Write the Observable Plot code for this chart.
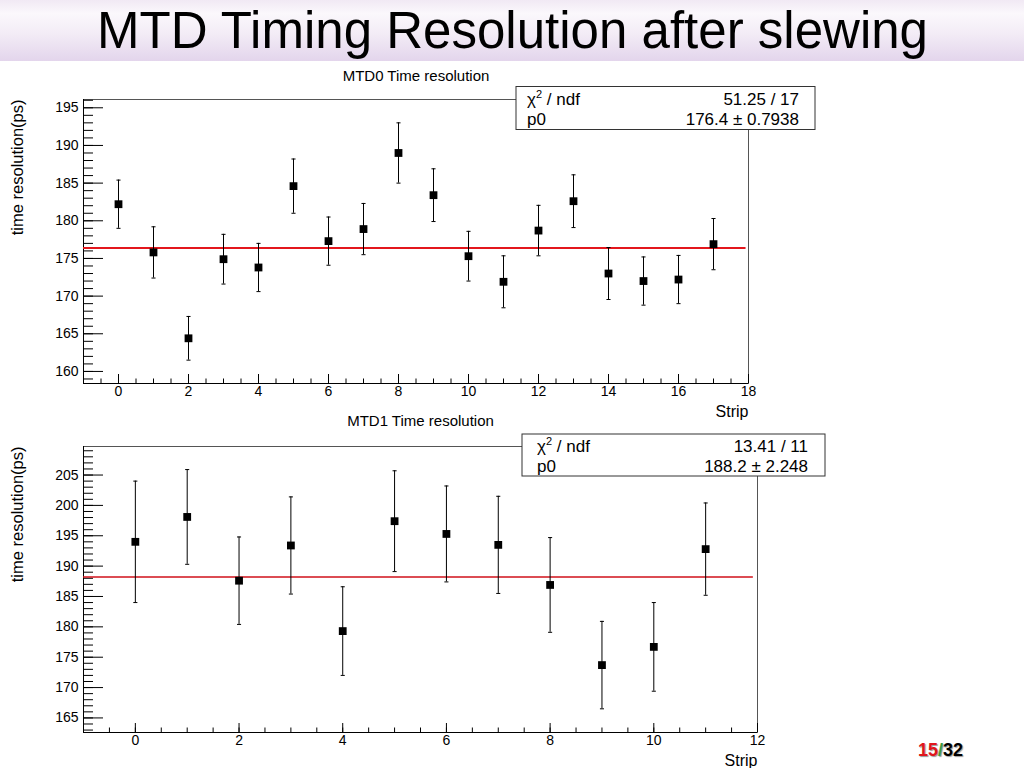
<!DOCTYPE html>
<html>
<head>
<meta charset="utf-8">
<script src="https://cdn.jsdelivr.net/npm/d3@7"></script>
<script src="https://cdn.jsdelivr.net/npm/@observablehq/plot@0.6"></script>
<style>
  html, body { margin: 0; padding: 0; }
  body { width: 1024px; height: 768px; position: relative; background: #fff; overflow: hidden;
         font-family: "Liberation Sans", Arial, Helvetica, sans-serif; }
  #band { position: absolute; left: 0; top: 0; width: 1024px; height: 61px;
          background: linear-gradient(to bottom, #f1e9f4 0%, #fbf8fc 22%, #f3ecf6 55%, #e3d5ec 100%); }
  .panel { position: absolute; left: 0; }
  #overlay { position: absolute; left: 0; top: 0; pointer-events: none; }
</style>
</head>
<body>
<div id="band"></div>
<div id="p0" class="panel" style="top:62px"></div>
<div id="p1" class="panel" style="top:410px"></div>
<svg id="overlay" width="1024" height="768"></svg>
<script>
// ---------------- data ----------------
const pageTitle = "MTD Timing Resolution after slewing";
const yTitle = "time resolution(ps)";
const xTitle = "Strip";

// MTD0
const title0 = "MTD0 Time resolution";
const strips0 = [0, 1, 2, 3, 4, 5, 6, 7, 8, 9, 10, 11, 12, 13, 14, 15, 16, 17];
const res0 = [182.2, 175.8, 164.4, 174.9, 173.8, 184.6, 177.3, 178.9, 189.0, 183.4, 175.3, 171.9, 178.7, 182.6, 173.0, 172.0, 172.2, 176.9];
const err0 = [3.2, 3.4, 2.9, 3.3, 3.2, 3.6, 3.2, 3.4, 4.0, 3.5, 3.3, 3.45, 3.35, 3.5, 3.45, 3.2, 3.2, 3.4];
const fitP0_0 = 176.4;
const fitRange0 = [-1, 17.93];
const xDomain0 = [-1, 18];
const yDomain0 = [158.4, 196.1];
const xMajor0 = [0, 2, 4, 6, 8, 10, 12, 14, 16, 18];
const yMajor0 = [160, 165, 170, 175, 180, 185, 190, 195];
const statNames0 = ["χ2 / ndf", "p0"];
const statValues0 = ["51.25 / 17", "176.4 ± 0.7938"];

// MTD1
const title1 = "MTD1 Time resolution";
const strips1 = [0, 1, 2, 3, 4, 5, 6, 7, 8, 9, 10, 11];
const res1 = [194.0, 198.1, 187.6, 193.4, 179.3, 197.4, 195.3, 193.5, 186.9, 173.7, 176.7, 192.8];
const err1 = [10.0, 7.8, 7.2, 8.0, 7.3, 8.3, 7.9, 8.0, 7.8, 7.2, 7.3, 7.6];
const fitP0_1 = 188.2;
const fitRange1 = [-1, 11.92];
const xDomain1 = [-1, 12];
const yDomain1 = [162.6, 209.7];
const xMajor1 = [0, 2, 4, 6, 8, 10, 12];
const yMajor1 = [165, 170, 175, 180, 185, 190, 195, 200, 205];
const statNames1 = ["χ2 / ndf", "p0"];
const statValues1 = ["13.41 / 11", "188.2 ± 2.248"];

const pageNum = "15", pageTotal = "32";

// ---------------- drawing ----------------
const FONT = '"Liberation Sans", Arial, Helvetica, sans-serif';
const capSymbol = { draw(ctx, size) { const w = Math.sqrt(size) / 2; ctx.moveTo(-w, 0); ctx.lineTo(w, 0); } };

function minorTicks(domain, step) {
  return d3.range(Math.ceil(domain[0] / step) * step, domain[1] + 1e-9, step);
}

function panel(o) {
  const data = o.strips.map((s, i) => ({ s, v: o.res[i], lo: o.res[i] - o.err[i], hi: o.res[i] + o.err[i] }));
  return Plot.plot({
    width: o.width, height: o.height,
    marginLeft: o.ml, marginRight: o.mr, marginTop: o.mt, marginBottom: o.mb,
    style: { fontFamily: FONT, fontSize: "14px", color: "#000", background: "transparent", overflow: "visible" },
    x: { domain: o.xDomain },
    y: { domain: o.yDomain },
    marks: [
      Plot.frame({ stroke: "#555", strokeWidth: 1 }),
      Plot.ruleX([o.xDomain[0]], { stroke: "#000" }),
      Plot.ruleY([o.yDomain[0]], { stroke: "#000" }),
      Plot.axisX({ ticks: o.xMajor, tickSize: 0, tickPadding: 3, tickFormat: d => String(d), label: null, fontSize: 14 }),
      Plot.axisX({ ticks: o.xMajor, tickSize: -9, text: null, label: null }),
      Plot.axisX({ ticks: minorTicks(o.xDomain, 0.5), tickSize: -4.5, text: null, label: null }),
      Plot.axisY({ ticks: o.yMajor, tickSize: 0, tickPadding: 5, tickFormat: d => String(d), label: null, fontSize: 14 }),
      Plot.axisY({ ticks: o.yMajor, tickSize: -20, text: null, label: null }),
      Plot.axisY({ ticks: minorTicks(o.yDomain, 1), tickSize: -10, text: null, label: null }),
      Plot.ruleY([o.p0], { x1: o.fitRange[0], x2: o.fitRange[1], stroke: o.fitColor, strokeWidth: o.fitWidth }),
      Plot.ruleX(data, { x: "s", y1: "lo", y2: "hi", stroke: "#000", strokeWidth: 1 }),
      Plot.dot(data, { x: "s", y: "hi", symbol: capSymbol, r: 2.3, stroke: "#000", fill: "none", strokeWidth: 1 }),
      Plot.dot(data, { x: "s", y: "lo", symbol: capSymbol, r: 2.3, stroke: "#000", fill: "none", strokeWidth: 1 }),
      Plot.dot(data, { x: "s", y: "v", symbol: "square", r: 4.4, fill: "#000", stroke: "none" }),
      Plot.text([o.title], { text: d => d, frameAnchor: "top", lineAnchor: "middle", dy: o.titleDy, fontSize: 15, fill: "#000" }),
      Plot.text([xTitle], { text: d => d, frameAnchor: "bottom-right", lineAnchor: "middle", textAnchor: "end", dy: 28, fontSize: 16, fill: "#000" }),
      Plot.text([yTitle], { text: d => d, frameAnchor: "top-left", lineAnchor: "middle", rotate: -90, textAnchor: "end", dx: -66, fontSize: 16.5, fill: "#000" })
    ]
  });
}

document.getElementById("p0").append(panel({
  strips: strips0, res: res0, err: err0, p0: fitP0_0, fitRange: fitRange0,
  xDomain: xDomain0, yDomain: yDomain0, xMajor: xMajor0, yMajor: yMajor0, title: title0,
  width: 830, height: 360, ml: 83, mr: 82, mt: 37, mb: 39, titleDy: -23.5,
  fitColor: "#e3161c", fitWidth: 2
}));
document.getElementById("p1").append(panel({
  strips: strips1, res: res1, err: err1, p0: fitP0_1, fitRange: fitRange1,
  xDomain: xDomain1, yDomain: yDomain1, xMajor: xMajor1, yMajor: yMajor1, title: title1,
  width: 830, height: 358, ml: 83, mr: 73, mt: 36, mb: 36, titleDy: -25,
  fitColor: "#d0101a", fitWidth: 1.6
}));

// ---------------- overlay: page title, stat boxes, page number ----------------
const ov = d3.select("#overlay").style("font-family", FONT);
ov.append("text").attr("x", 97).attr("y", 48.3).attr("font-size", 51)
  .attr("textLength", 831).attr("lengthAdjust", "spacingAndGlyphs").attr("fill", "#000").text(pageTitle);

function statBox(box, names, values) {
  const g = ov.append("g");
  g.append("rect").attr("x", box.x).attr("y", box.y).attr("width", box.w).attr("height", box.h)
    .attr("fill", "#fff").attr("stroke", "#333").attr("stroke-width", 1);
  names.forEach((n, i) => {
    const t = g.append("text").attr("x", box.tl).attr("y", box.b[i]).attr("font-size", 17).attr("fill", "#000");
    if (n.startsWith("χ2")) {
      t.append("tspan").text("χ");
      t.append("tspan").attr("dy", -7).attr("font-size", 11).text("2");
      t.append("tspan").attr("dy", 7).text(n.slice(2));
    } else t.text(n);
    g.append("text").attr("x", box.tr).attr("y", box.b[i]).attr("font-size", 17)
      .attr("text-anchor", "end").attr("fill", "#000").text(values[i]);
  });
}
statBox({ x: 516, y: 86.5, w: 299, h: 43, tl: 527, tr: 799, b: [105, 125] }, statNames0, statValues0);
statBox({ x: 522, y: 434, w: 303, h: 42, tl: 537, tr: 808, b: [452, 472] }, statNames1, statValues1);

const pn = ov.append("text").attr("x", 918).attr("y", 756).attr("font-size", 18).attr("font-weight", "bold")
  .style("text-shadow", "1px 1px 1px #999");
pn.append("tspan").attr("fill", "#e0161c").text(pageNum);
pn.append("tspan").attr("fill", "#3c9a3c").text("/");
pn.append("tspan").attr("fill", "#000").text(pageTotal);
</script>
</body>
</html>
